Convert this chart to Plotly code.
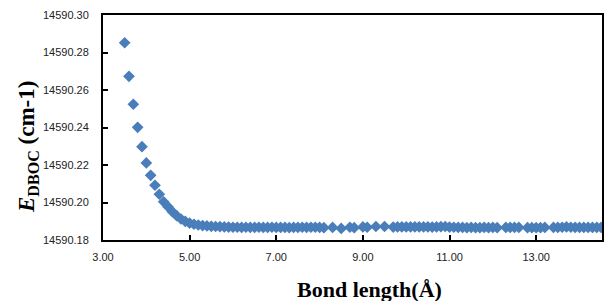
import plotly.graph_objects as go

bond_length = [
    3.5, 3.6, 3.7, 3.8, 3.9, 4.0, 4.1, 4.2, 4.3, 4.4, 4.5, 4.6, 4.7, 4.8, 4.9,
    5.0, 5.1, 5.2, 5.3, 5.4, 5.5, 5.6, 5.7, 5.8, 5.9,
    6.0, 6.1, 6.2, 6.3, 6.4, 6.5, 6.6, 6.7, 6.8, 6.9,
    7.0, 7.1, 7.2, 7.3, 7.4, 7.5, 7.6, 7.7, 7.8, 7.9, 8.0, 8.1,
    8.3, 8.5, 8.7, 8.8, 9.0, 9.1, 9.3, 9.5,
    9.7, 9.8, 9.9, 10.0, 10.1, 10.2, 10.3, 10.4, 10.5, 10.6, 10.7, 10.8, 10.9,
    11.0, 11.1, 11.2, 11.3, 11.4, 11.5, 11.6, 11.7, 11.8, 11.9, 12.0, 12.1,
    12.3, 12.4, 12.5, 12.6,
    12.8, 12.9, 13.0, 13.1, 13.2,
    13.4, 13.5, 13.6, 13.7, 13.8, 13.9, 14.0, 14.1, 14.2, 14.3, 14.4, 14.5,
]

e_dboc = [
    14590.2852, 14590.2673, 14590.2524, 14590.2401, 14590.2298, 14590.2211,
    14590.2145, 14590.2092, 14590.2044, 14590.2004, 14590.1978, 14590.1951,
    14590.1930, 14590.1912, 14590.1899,
    14590.1890, 14590.1884, 14590.1880, 14590.1877, 14590.1875, 14590.1873,
    14590.1872, 14590.1871, 14590.1870, 14590.1869,
    14590.1868, 14590.1868, 14590.1867, 14590.1868, 14590.1867, 14590.1867,
    14590.1868, 14590.1867, 14590.1867, 14590.1868,
    14590.1867, 14590.1867, 14590.1867, 14590.1866, 14590.1867, 14590.1867,
    14590.1868, 14590.1867, 14590.1868, 14590.1868, 14590.1867, 14590.1866,
    14590.1867, 14590.1862, 14590.1868, 14590.1866, 14590.1870, 14590.1868,
    14590.1872, 14590.1872,
    14590.1869, 14590.1870, 14590.1870, 14590.1870, 14590.1870, 14590.1870,
    14590.1870, 14590.1870, 14590.1870, 14590.1869, 14590.1870, 14590.1871,
    14590.1872,
    14590.1869, 14590.1868, 14590.1867, 14590.1867, 14590.1866, 14590.1867,
    14590.1866, 14590.1866, 14590.1867, 14590.1866, 14590.1867, 14590.1866,
    14590.1867, 14590.1867, 14590.1867, 14590.1867,
    14590.1866, 14590.1866, 14590.1866, 14590.1866, 14590.1867,
    14590.1867, 14590.1867, 14590.1868, 14590.1870, 14590.1868, 14590.1867,
    14590.1867, 14590.1867, 14590.1867, 14590.1867, 14590.1867, 14590.1867,
]

x_ticks = [3, 5, 7, 9, 11, 13]
y_ticks = [14590.18, 14590.20, 14590.22, 14590.24, 14590.26, 14590.28, 14590.30]

x_title = "<b>Bond length(Å)</b>"
y_title = "<b><i>E</i><sub>DBOC</sub> (cm-1)</b>"

fig = go.Figure(
    go.Scatter(
        x=bond_length,
        y=e_dboc,
        mode="markers",
        marker=dict(symbol="diamond", size=9, color="#4a7ebb", line=dict(width=0)),
        showlegend=False,
    )
)

tick_font = dict(family="Liberation Sans", size=11, color="#222222")
title_font = dict(family="Liberation Serif", size=22, color="black")

fig.update_layout(
    width=606,
    height=301,
    margin=dict(l=103, r=2, t=15, b=61),
    paper_bgcolor="white",
    plot_bgcolor="white",
    xaxis=dict(
        range=[3, 14.52],
        tickvals=x_ticks,
        ticktext=[f"{v:.2f}" for v in x_ticks],
        ticks="inside",
        ticklen=5,
        tickwidth=1.5,
        tickcolor="black",
        showline=True,
        linecolor="black",
        linewidth=2,
        mirror=True,
        showgrid=False,
        zeroline=False,
        tickfont=tick_font,
        ticklabelstandoff=6,
    ),
    yaxis=dict(
        range=[14590.18, 14590.30],
        tickvals=y_ticks,
        ticktext=[f"{v:.2f}" for v in y_ticks],
        ticks="inside",
        ticklen=5,
        tickwidth=1.5,
        tickcolor="black",
        showline=True,
        linecolor="black",
        linewidth=2,
        mirror=True,
        showgrid=False,
        zeroline=False,
        tickfont=tick_font,
        ticklabelstandoff=10,
    ),
    annotations=[
        dict(
            text=x_title,
            xref="paper", yref="paper",
            x=(371 - 103) / 501, y=0,
            yshift=-49,
            xanchor="center", yanchor="middle",
            showarrow=False,
            font=title_font,
        ),
        dict(
            text=y_title,
            xref="paper", yref="paper",
            x=0, y=(240 - 147) / 225,
            xshift=-75,
            xanchor="center", yanchor="middle",
            textangle=-90,
            showarrow=False,
            font=dict(family="Liberation Serif", size=23, color="black"),
        ),
    ],
)

fig.write_html("out.html")
